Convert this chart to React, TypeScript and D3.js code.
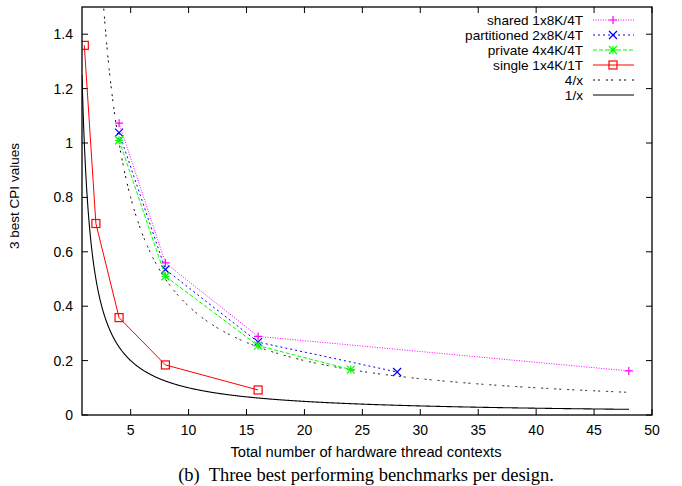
import React from "react";
import * as d3 from "d3";

const xTicks = [5, 10, 15, 20, 25, 30, 35, 40, 45, 50];
const yTicks = [0, 0.2, 0.4, 0.6, 0.8, 1, 1.2, 1.4];

const sharedX = [4, 8, 16, 48];
const sharedY = [1.073, 0.559, 0.289, 0.162];
const partX = [4, 8, 16, 28];
const partY = [1.038, 0.535, 0.268, 0.158];
const privX = [4, 8, 16, 24];
const privY = [1.01, 0.51, 0.255, 0.167];
const singleX = [1, 2, 4, 8, 16];
const singleY = [1.359, 0.704, 0.358, 0.184, 0.092];

const W = 682, H = 486;
const L = 82, R = 652, T = 7, B = 415;
const FONT = "'Liberation Sans', Arial, Helvetica, sans-serif";

type Marker = "plus" | "cross" | "star" | "square" | "none";

function MarkerShape({ type, x, y, color }: { type: Marker; x: number; y: number; color: string }) {
  const s = 4;
  if (type === "plus")
    return <path d={`M${x - s},${y}H${x + s}M${x},${y - s}V${y + s}`} stroke={color} strokeWidth={1.2} fill="none" />;
  if (type === "cross")
    return <path d={`M${x - s},${y - s}L${x + s},${y + s}M${x - s},${y + s}L${x + s},${y - s}`} stroke={color} strokeWidth={1.2} fill="none" />;
  if (type === "star")
    return (
      <path
        d={`M${x - s},${y}H${x + s}M${x},${y - s}V${y + s}M${x - s},${y - s}L${x + s},${y + s}M${x - s},${y + s}L${x + s},${y - s}`}
        stroke={color}
        strokeWidth={1.2}
        fill="none"
      />
    );
  if (type === "square")
    return <rect x={x - s} y={y - s} width={2 * s} height={2 * s} stroke={color} strokeWidth={1.2} fill="none" />;
  return null;
}

export default function App() {
  const x = d3.scaleLinear().domain([0.8, 50]).range([L, R]);
  const y = d3.scaleLinear().domain([0, 1.5]).range([B, T]);
  const line = d3
    .line<[number, number]>()
    .x((d) => x(d[0]))
    .y((d) => y(d[1]));

  const fx = d3.range(0.8, 48.0001, 0.05);
  const inv1: [number, number][] = fx.map((v) => [v, 1 / v]);
  const inv4: [number, number][] = fx.map((v) => [v, 4 / v]);

  const series = [
    { name: "shared 1x8K/4T", xs: sharedX, ys: sharedY, color: "#ff00ff", dash: "1,1.5", marker: "plus" as Marker },
    { name: "partitioned 2x8K/4T", xs: partX, ys: partY, color: "#0000ff", dash: "2,3", marker: "cross" as Marker },
    { name: "private 4x4K/4T", xs: privX, ys: privY, color: "#00ff00", dash: "4,2", marker: "star" as Marker },
    { name: "single 1x4K/1T", xs: singleX, ys: singleY, color: "#ff0000", dash: "", marker: "square" as Marker },
  ];

  const legend = [
    ...series.map((s) => ({ name: s.name, color: s.color, dash: s.dash, marker: s.marker })),
    { name: "4/x", color: "#000000", dash: "2,3,2,6", marker: "none" as Marker },
    { name: "1/x", color: "#000000", dash: "", marker: "none" as Marker },
  ];

  return (
    <svg width={W} height={H} style={{ position: "absolute", left: 0, top: 0, background: "#fff" }}>
      <defs>
        <clipPath id="plotClip">
          <rect x={L} y={T} width={R - L} height={B - T} />
        </clipPath>
      </defs>

      {/* ticks (mirrored, inward) */}
      {xTicks.map((t) => (
        <g key={"xt" + t}>
          <line x1={x(t)} x2={x(t)} y1={B} y2={B - 6} stroke="#000" strokeWidth={1} />
          <line x1={x(t)} x2={x(t)} y1={T} y2={T + 6} stroke="#000" strokeWidth={1} />
          <text x={x(t)} y={B + 20} textAnchor="middle" fontFamily={FONT} fontSize={14}>
            {t}
          </text>
        </g>
      ))}
      {yTicks.map((t) => (
        <g key={"yt" + t}>
          <line x1={L} x2={L + 6} y1={y(t)} y2={y(t)} stroke="#000" strokeWidth={1} />
          <line x1={R} x2={R - 6} y1={y(t)} y2={y(t)} stroke="#000" strokeWidth={1} />
          <text x={L - 9} y={y(t) + 5} textAnchor="end" fontFamily={FONT} fontSize={14}>
            {String(t)}
          </text>
        </g>
      ))}

      <g clipPath="url(#plotClip)">
        <path d={line(inv4) || ""} fill="none" stroke="#000" strokeWidth={1} strokeDasharray="2,3,2,6" />
        <path d={line(inv1) || ""} fill="none" stroke="#000" strokeWidth={1.1} />
        {series.map((s) => {
          const pts: [number, number][] = s.xs.map((v, i) => [v, s.ys[i]]);
          return (
            <g key={s.name}>
              <path d={line(pts) || ""} fill="none" stroke={s.color} strokeWidth={1} strokeDasharray={s.dash || undefined} />
              {pts.map((p, i) => (
                <MarkerShape key={i} type={s.marker} x={x(p[0])} y={y(p[1])} color={s.color} />
              ))}
            </g>
          );
        })}
      </g>

      <rect x={L} y={T} width={R - L} height={B - T} fill="none" stroke="#000" strokeWidth={1.3} />

      {/* legend */}
      {legend.map((l, i) => {
        const ly = 20 + i * 15;
        return (
          <g key={"lg" + i}>
            <text x={583} y={ly + 5} textAnchor="end" fontFamily={FONT} fontSize={13.6}>
              {l.name}
            </text>
            <line x1={593} x2={634} y1={ly} y2={ly} stroke={l.color} strokeWidth={1} strokeDasharray={l.dash || undefined} />
            <MarkerShape type={l.marker} x={613} y={ly} color={l.color} />
          </g>
        );
      })}

      <text x={366} y={457} textAnchor="middle" fontFamily={FONT} fontSize={14.7}>
        Total number of hardware thread contexts
      </text>
      <text
        transform={`translate(19,196) rotate(-90)`}
        textAnchor="middle"
        fontFamily={FONT}
        fontSize={13.5}
      >
        3 best CPI values
      </text>
      <text x={366} y={481} textAnchor="middle" fontFamily="'Liberation Serif', 'Times New Roman', serif" fontSize={18.5} style={{ whiteSpace: "pre" }}>
        {"(b)  Three best performing benchmarks per design."}
      </text>
    </svg>
  );
}
